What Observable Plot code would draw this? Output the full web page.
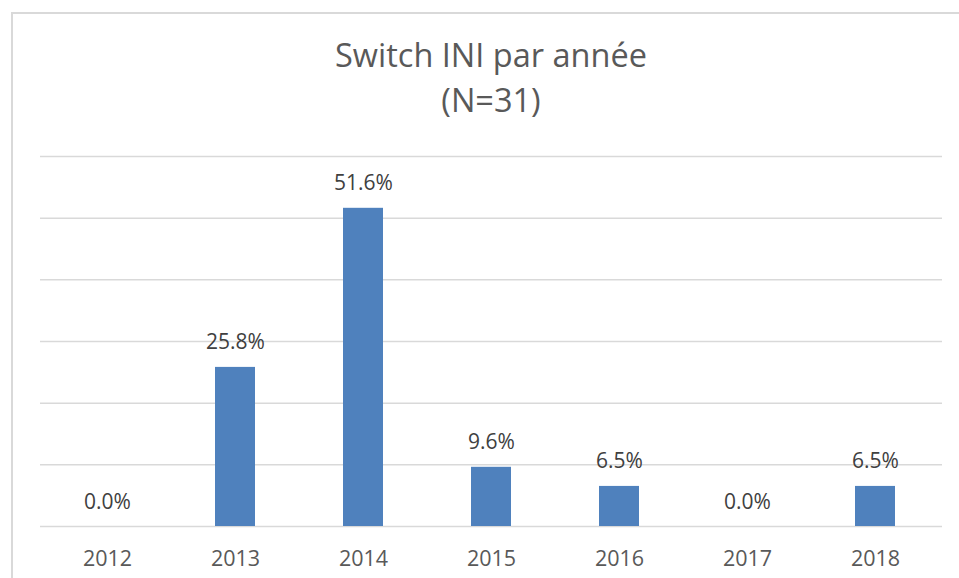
<!DOCTYPE html>
<html>
<head>
<meta charset="utf-8">
<script src="https://cdn.jsdelivr.net/npm/d3@7"></script>
<script src="https://cdn.jsdelivr.net/npm/@observablehq/plot@0.6"></script>
<style>
  html, body { margin: 0; padding: 0; background: #fff; width: 959px; height: 578px; overflow: hidden; }
  #frame { position: absolute; left: 11px; top: 12px; width: 980px; height: 600px; border-left: 2px solid #d9d9d9; border-top: 2px solid #d9d9d9; box-sizing: border-box; }
  #title { position: absolute; left: 0; width: 982px; top: 32px; text-align: center; font-family: "Open Sans", sans-serif; font-size: 32.5px; line-height: 45px; color: #595959; }
  #chart { position: absolute; left: 0; top: 140px; }
</style>
</head>
<body>
<div id="frame"></div>
<div id="title">Switch INI par année<br>(N=31)</div>
<div id="chart"></div>
<script>
const years = ["2012", "2013", "2014", "2015", "2016", "2017", "2018"];
const percents = [0.0, 25.8, 51.6, 9.6, 6.5, 0.0, 6.5];
const labels = ["0.0%", "25.8%", "51.6%", "9.6%", "6.5%", "0.0%", "6.5%"];
const gridValues = [0, 10, 20, 30, 40, 50, 60];

const data = years.map((y, i) => ({year: y, value: percents[i], label: labels[i]}));

const chart = Plot.plot({
  width: 959,
  height: 438,
  marginLeft: 40,
  marginRight: 17,
  marginTop: 16,
  marginBottom: 52,
  style: {fontFamily: "Open Sans, sans-serif", background: "transparent"},
  x: {domain: years, paddingInner: 0.69, paddingOuter: 0.345, label: null},
  y: {domain: [0, 60], axis: null},
  marks: [
    Plot.ruleY(gridValues, {stroke: "#d9d9d9", strokeWidth: 1.5}),
    Plot.barY(data, {x: "year", y: "value", fill: "#4f81bd"}),
    Plot.text(data, {x: "year", y: "value", text: "label", lineAnchor: "bottom", dy: -18, fill: "#404040", fontSize: 21}),
    Plot.axisX({tickSize: 0, tickPadding: 24, fontSize: 21.5, color: "#595959", label: null})
  ]
});
document.getElementById("chart").appendChild(chart);
</script>
</body>
</html>
